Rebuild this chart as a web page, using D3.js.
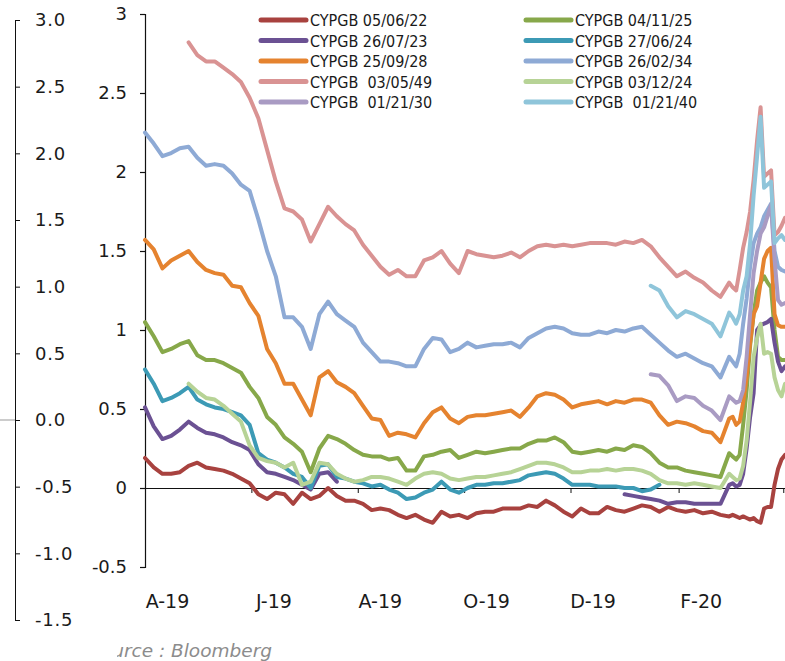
<!DOCTYPE html>
<html>
<head>
<meta charset="utf-8">
<script src="https://cdn.jsdelivr.net/npm/d3@7"></script>
<style>
  body { margin: 0; background: #fff; }
  svg { display: block; }
  .axis text { font-family: "DejaVu Sans", sans-serif; fill: #1a1a1a; }
  .legend text { font-family: "DejaVu Sans Condensed", "DejaVu Sans", sans-serif; font-stretch: condensed; white-space: pre; fill: #1a1a1a; }
</style>
</head>
<body>
<div id="chart"></div>
<script>
// Start of the date axis and the sampled day offsets (5 days, then 2 days in March 2020)
const startDate = new Date(2019, 3, 1)
const dayOffsets = [
    0, 5, 10, 15, 20, 25, 30, 35, 40, 45,
    50, 55, 60, 65, 70, 75, 80, 85, 90, 95,
    100, 105, 110, 115, 120, 125, 130, 135, 140, 145,
    150, 155, 160, 165, 170, 175, 180, 185, 190, 195,
    200, 205, 210, 215, 220, 225, 230, 235, 240, 245,
    250, 255, 260, 265, 270, 275, 280, 285, 290, 295,
    300, 305, 310, 315, 320, 325, 330, 335, 337, 339,
    341, 343, 345, 347, 349, 351, 353, 355, 357, 359,
    361, 363, 365, 367
]
const monthTicks = [
    new Date(2019, 3, 1), new Date(2019, 5, 1), new Date(2019, 7, 1), new Date(2019, 9, 1),
    new Date(2019, 11, 1), new Date(2020, 1, 1), new Date(2020, 3, 1)
]
const mainTicks = [-0.5, 0, 0.5, 1, 1.5, 2, 2.5, 3]
const leftTicks = [-1.5, -1.0, -0.5, 0.0, 0.5, 1.0, 1.5, 2.0, 2.5, 3.0]

const seriesNames = [
    "CYPGB 05/06/22", "CYPGB 04/11/25",
    "CYPGB 26/07/23", "CYPGB 27/06/24",
    "CYPGB 25/09/28", "CYPGB 26/02/34",
    "CYPGB  03/05/49", "CYPGB 03/12/24",
    "CYPGB  01/21/30", "CYPGB  01/21/40"
]
const seriesColors = [
    "#a8423f", "#87a84a",
    "#6b5193", "#3c9ab5",
    "#e5832f", "#8eaad5",
    "#d99393", "#b7d396",
    "#a99bc3", "#8fc5da"
]
// index in dayOffsets where each series begins
const seriesStart = [0, 0, 0, 0, 0, 0, 5, 5, 58, 58]

const gb220605 = [
    0.19, 0.13, 0.09, 0.09, 0.10, 0.14, 0.16, 0.13, 0.12, 0.11,
    0.09, 0.06, 0.03, -0.04, -0.07, -0.03, -0.04, -0.10, -0.03, -0.07,
    -0.05, 0.00, -0.05, -0.08, -0.08, -0.10, -0.14, -0.13, -0.14, -0.17,
    -0.19, -0.17, -0.20, -0.22, -0.15, -0.18, -0.17, -0.19, -0.16, -0.15,
    -0.15, -0.13, -0.13, -0.13, -0.11, -0.12, -0.08, -0.11, -0.15, -0.18,
    -0.13, -0.16, -0.16, -0.12, -0.14, -0.15, -0.13, -0.11, -0.12, -0.15,
    -0.12, -0.14, -0.15, -0.14, -0.16, -0.15, -0.17, -0.18, -0.17, -0.18,
    -0.19, -0.18, -0.19, -0.20, -0.19, -0.21, -0.22, -0.13, -0.12, -0.12,
    0.02, 0.12, 0.18, 0.21
]
const gb251104 = [
    1.05, 0.96, 0.86, 0.88, 0.91, 0.93, 0.84, 0.81, 0.81, 0.79,
    0.76, 0.73, 0.64, 0.57, 0.45, 0.40, 0.32, 0.28, 0.23, 0.10,
    0.25, 0.33, 0.31, 0.28, 0.24, 0.21, 0.20, 0.20, 0.18, 0.19,
    0.11, 0.11, 0.20, 0.21, 0.23, 0.24, 0.19, 0.21, 0.23, 0.22,
    0.23, 0.24, 0.25, 0.25, 0.28, 0.30, 0.30, 0.32, 0.29, 0.23,
    0.22, 0.23, 0.24, 0.23, 0.25, 0.24, 0.27, 0.26, 0.22, 0.16,
    0.13, 0.13, 0.11, 0.10, 0.09, 0.08, 0.07, 0.22, 0.20, 0.18,
    0.21, 0.40, 0.62, 0.90, 1.10, 1.25, 1.30, 1.34, 1.30, 1.27,
    1.00, 0.83, 0.81, 0.81
]
const gb230726 = [
    0.51, 0.39, 0.31, 0.33, 0.37, 0.42, 0.38, 0.35, 0.34, 0.32,
    0.29, 0.27, 0.24, 0.15, 0.10, 0.09, 0.07, 0.05, 0.02, -0.01,
    0.09, 0.10, 0.04, null, null, null, null, null, null, null,
    null, null, null, null, null, null, null, null, null, null,
    null, null, null, null, null, null, null, null, null, null,
    null, null, null, null, null, -0.04, -0.05, -0.06, -0.07, -0.08,
    -0.10, -0.09, -0.09, -0.10, -0.10, -0.10, -0.10, 0.02, 0.03, 0.01,
    0.02, 0.09, 0.25, 0.45, 0.60, 1.00, 1.03, 1.04, 1.05, 1.07,
    0.92, 0.80, 0.74, 0.77
]
const gb240627 = [
    0.75, 0.66, 0.55, 0.57, 0.60, 0.64, 0.56, 0.53, 0.51, 0.50,
    0.48, 0.46, 0.40, 0.22, 0.18, 0.16, 0.13, 0.09, 0.07, 0.00,
    0.14, 0.15, 0.07, 0.06, 0.04, 0.03, 0.01, 0.02, -0.01, -0.03,
    -0.07, -0.06, -0.03, -0.01, 0.04, -0.01, -0.03, 0.00, 0.02, 0.02,
    0.03, 0.03, 0.04, 0.05, 0.08, 0.09, 0.10, 0.09, 0.06, 0.02,
    0.02, 0.02, 0.01, 0.01, 0.01, 0.00, 0.00, -0.02, -0.01, 0.02
]
const gb280925 = [
    1.57, 1.51, 1.39, 1.44, 1.47, 1.50, 1.43, 1.38, 1.36, 1.35,
    1.28, 1.27, 1.17, 1.09, 0.88, 0.79, 0.66, 0.66, 0.56, 0.46,
    0.70, 0.74, 0.67, 0.64, 0.60, 0.52, 0.44, 0.43, 0.33, 0.35,
    0.34, 0.32, 0.41, 0.48, 0.51, 0.44, 0.41, 0.45, 0.46, 0.46,
    0.47, 0.48, 0.49, 0.45, 0.51, 0.58, 0.60, 0.59, 0.56, 0.51,
    0.53, 0.54, 0.55, 0.53, 0.55, 0.54, 0.56, 0.56, 0.54, 0.46,
    0.40, 0.42, 0.41, 0.39, 0.36, 0.35, 0.29, 0.44, 0.45, 0.40,
    0.42, 0.54, 0.70, 0.92, 1.10, 1.15, 1.30, 1.45, 1.50, 1.52,
    1.10, 1.03, 1.02, 1.02
]
const gb340226 = [
    2.25, 2.18, 2.10, 2.12, 2.15, 2.16, 2.09, 2.04, 2.05, 2.04,
    1.99, 1.92, 1.88, 1.70, 1.50, 1.34, 1.08, 1.08, 1.02, 0.88,
    1.10, 1.18, 1.10, 1.06, 1.02, 0.92, 0.86, 0.80, 0.80, 0.79,
    0.77, 0.77, 0.88, 0.95, 0.94, 0.86, 0.88, 0.92, 0.89, 0.90,
    0.91, 0.91, 0.92, 0.89, 0.95, 0.98, 1.01, 1.02, 1.01, 0.98,
    0.97, 0.97, 0.99, 0.98, 1.00, 0.99, 1.01, 1.02, 0.97, 0.92,
    0.87, 0.83, 0.85, 0.82, 0.79, 0.77, 0.70, 0.83, 0.80, 0.77,
    0.85, 1.04, 1.20, 1.40, 1.55, 1.61, 1.65, 1.72, 1.76, 1.80,
    1.50, 1.40, 1.38, 1.37
]
const gb490503 = [
    2.82, 2.74, 2.70, 2.70, 2.66,
    2.62, 2.57, 2.47, 2.34, 2.14, 1.94, 1.77, 1.75, 1.70, 1.56,
    1.67, 1.78, 1.72, 1.67, 1.63, 1.54, 1.47, 1.40, 1.35, 1.38,
    1.34, 1.34, 1.44, 1.46, 1.50, 1.42, 1.36, 1.50, 1.48, 1.47,
    1.46, 1.47, 1.49, 1.46, 1.50, 1.53, 1.54, 1.53, 1.54, 1.53,
    1.54, 1.55, 1.55, 1.55, 1.54, 1.56, 1.55, 1.57, 1.53, 1.46,
    1.40, 1.34, 1.37, 1.33, 1.30, 1.25, 1.21, 1.30, 1.27, 1.25,
    1.38, 1.52, 1.62, 1.75, 1.95, 2.20, 2.41, 1.97, 1.99, 2.01,
    1.60, 1.62, 1.66, 1.71
]
const gb241203 = [
    0.66, 0.61, 0.57, 0.56, 0.52,
    0.47, 0.42, 0.27, 0.19, 0.17, 0.16, 0.13, 0.16, 0.02, 0.04,
    0.16, 0.15, 0.09, 0.06, 0.04, 0.05, 0.07, 0.07, 0.06, 0.04,
    0.02, 0.06, 0.09, 0.10, 0.09, 0.06, 0.05, 0.06, 0.07, 0.07,
    0.08, 0.09, 0.10, 0.12, 0.14, 0.16, 0.16, 0.15, 0.13, 0.10,
    0.10, 0.11, 0.11, 0.12, 0.11, 0.12, 0.12, 0.11, 0.09, 0.05,
    0.03, 0.03, 0.02, 0.03, 0.02, 0.01, 0.00, 0.09, 0.07, 0.05,
    0.06, 0.14, 0.30, 0.55, 0.83, 0.95, 1.04, 0.85, 0.86, 0.85,
    0.70, 0.62, 0.58, 0.66
]
const gb300121 = [
    0.72, 0.71,
    0.65, 0.55, 0.58, 0.57, 0.52, 0.49, 0.43, 0.58, 0.56, 0.54,
    0.55, 0.62, 0.83, 1.10, 1.36, 1.50, 1.61, 1.65, 1.72, 1.79,
    1.45, 1.19, 1.16, 1.17
]
const gb400121 = [
    1.28, 1.25,
    1.15, 1.08, 1.12, 1.10, 1.07, 1.04, 0.96, 1.11, 1.08, 1.04,
    1.10, 1.25, 1.34, 1.55, 1.85, 2.10, 2.35, 1.90, 1.92, 1.94,
    1.55, 1.58, 1.60, 1.57
]
const seriesValues = [gb220605, gb251104, gb230726, gb240627, gb280925,
    gb340226, gb490503, gb241203, gb300121, gb400121]

function drawChart() {
    const width = 785
    const height = 661
    const plot = { left: 145, right: 785, top: 14, bottom: 567 }

    const dates = dayOffsets.map(d => d3.timeDay.offset(startDate, d))

    const svg = d3.select("#chart").append("svg")
        .attr("width", width)
        .attr("height", height)

    // Scales
    const xScale = d3.scaleTime()
        .domain([startDate, new Date(2020, 3, 2)])
        .range([plot.left, plot.right])

    const yScale = d3.scaleLinear()
        .domain([-0.5, 3])
        .range([plot.bottom, plot.top])

    const leftScale = d3.scaleLinear()
        .domain([-1.5, 3])
        .range([620, 20])

    // Extra left axis
    const leftAxis = svg.append("g")
        .attr("class", "axis")
        .attr("transform", "translate(15,0)")
        .call(d3.axisRight(leftScale)
            .tickValues(leftTicks)
            .tickSize(5)
            .tickPadding(15)
            .tickFormat(d => d.toFixed(1)))
    leftAxis.selectAll("text")
        .attr("font-size", "18px")
        .attr("letter-spacing", "0.8px")
    leftAxis.selectAll("path, line").attr("stroke", "#111")

    svg.append("line")
        .attr("x1", 0).attr("x2", 15)
        .attr("y1", leftScale(0)).attr("y2", leftScale(0))
        .attr("stroke", "#999")

    // Main y axis
    const yAxis = svg.append("g")
        .attr("class", "axis")
        .attr("transform", `translate(${plot.left},0)`)
        .call(d3.axisLeft(yScale)
            .tickValues(mainTicks)
            .tickSize(5)
            .tickPadding(13)
            .tickFormat(d => String(d)))
    yAxis.selectAll("text").attr("font-size", "18px")
    yAxis.selectAll("path, line").attr("stroke", "#111").attr("stroke-width", 1.2)

    // x axis on the zero line
    const monthFmt = d3.timeFormat("%b")
    const yearFmt = d3.timeFormat("%y")
    const xAxis = svg.append("g")
        .attr("class", "axis")
        .attr("transform", `translate(0,${yScale(0)})`)
        .call(d3.axisBottom(xScale)
            .tickValues(monthTicks)
            .tickSize(5)
            .tickSizeOuter(0)
            .tickFormat((d, i) => i === monthTicks.length - 1 ? "" : monthFmt(d)[0] + "-" + yearFmt(d)))
    xAxis.selectAll("text")
        .attr("font-size", "19px")
        .attr("dx", 22)
        .attr("dy", 0)
        .attr("y", 120)
    xAxis.selectAll("path, line").attr("stroke", "#111")

    // Lines
    const line = d3.line()
        .defined(d => d.v !== null)
        .x(d => xScale(d.date))
        .y(d => yScale(d.v))

    seriesValues.forEach((vals, i) => {
        const pts = vals.map((v, j) => ({ date: dates[seriesStart[i] + j], v }))
        svg.append("path")
            .datum(pts)
            .attr("fill", "none")
            .attr("stroke", seriesColors[i])
            .attr("stroke-width", 4)
            .attr("stroke-linejoin", "round")
            .attr("stroke-linecap", "round")
            .attr("d", line)
    })

    // Legend, two columns filled row by row
    const legend = svg.append("g").attr("class", "legend")
    seriesNames.forEach((name, i) => {
        const col = i % 2
        const row = Math.floor(i / 2)
        const x0 = col === 0 ? 261 : 526
        const y0 = 20 + row * 20.5
        legend.append("line")
            .attr("x1", x0).attr("x2", x0 + 45)
            .attr("y1", y0).attr("y2", y0)
            .attr("stroke", seriesColors[i])
            .attr("stroke-width", 5)
            .attr("stroke-linecap", "round")
        legend.append("text")
            .attr("x", x0 + 49)
            .attr("y", y0 + 6)
            .attr("font-size", "16px")
            .text(name)
    })

    // Source note, cut on the left as in the original
    svg.append("clipPath").attr("id", "srcClip")
        .append("rect")
        .attr("x", 117).attr("y", 630).attr("width", 300).attr("height", 40)
    svg.append("text")
        .attr("clip-path", "url(#srcClip)")
        .attr("x", 272)
        .attr("y", 657)
        .attr("text-anchor", "end")
        .attr("font-family", "DejaVu Sans, sans-serif")
        .attr("font-style", "italic")
        .attr("font-size", "18.5px")
        .attr("fill", "#8c8c8c")
        .text("Source : Bloomberg")
}

drawChart()
</script>
</body>
</html>
